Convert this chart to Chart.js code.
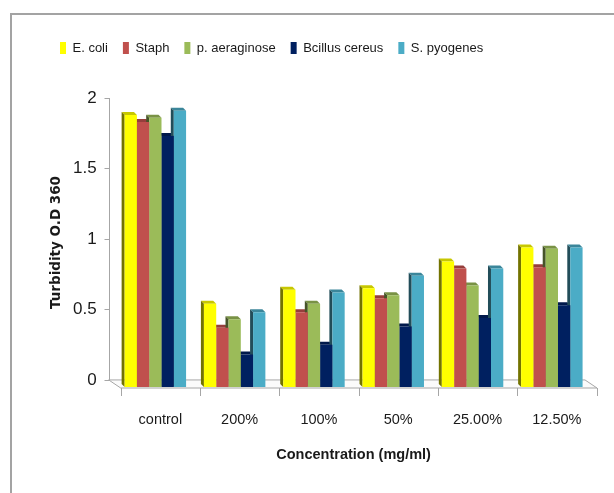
<!DOCTYPE html>
<html>
<head>
<meta charset="utf-8">
<script src="https://cdn.jsdelivr.net/npm/chart.js@4/dist/chart.umd.min.js"></script>
<style>
  html, body { margin: 0; padding: 0; background: #fff; overflow: hidden; }
  #wrap { position: relative; width: 614px; height: 493px; }
  #frame { position: absolute; left: 10px; top: 13px; width: 700px; height: 600px;
           border-left: 2px solid #a3a3a3; border-top: 2px solid #a3a3a3; }
  canvas { position: absolute; left: 0; top: 0; }
</style>
</head>
<body>
<div id="wrap">
  <div id="frame"></div>
  <canvas id="chart" width="614" height="493"></canvas>
</div>
<script>
// Turbidity (O.D 360) per concentration for each organism
const categories = ['control', '200%', '100%', '50%', '25.00%', '12.50%'];
const seriesNames = ['E. coli', 'Staph', 'p. aeraginose', 'Bcillus cereus', 'S. pyogenes'];
const eColi      = [1.88, 0.54, 0.64, 0.65, 0.84, 0.94];
const staph      = [1.83, 0.37, 0.48, 0.58, 0.79, 0.80];
const pAeruginosa = [1.86, 0.43, 0.54, 0.60, 0.67, 0.93];
const bCereus    = [1.73, 0.18, 0.25, 0.38, 0.44, 0.53];
const sPyogenes  = [1.91, 0.48, 0.62, 0.74, 0.79, 0.94];
const yTicks = [0, 0.5, 1, 1.5, 2];
const yTickLabels = ['0', '0.5', '1', '1.5', '2'];

const seriesValues = [eColi, staph, pAeruginosa, bCereus, sPyogenes];
const seriesColors = ['#FFFF00', '#C0504D', '#9BBB59', '#002060', '#4BACC6'];

const FONT = "'Liberation Sans', Arial, sans-serif";
const FLOOR_BASE = -0.05;   // bars stand on the front edge of the floor
const DEPTH = 3;            // bar side/top face depth in px

function shade(hex, f) {
  const n = parseInt(hex.slice(1), 16);
  const r = Math.round(((n >> 16) & 255) * f);
  const g = Math.round(((n >> 8) & 255) * f);
  const b = Math.round((n & 255) * f);
  return `rgb(${r},${g},${b})`;
}

// Floor, axis line and the 3-D faces of every bar
const pseudo3d = {
  id: 'pseudo3d',
  beforeInit(chart) {
    const fit = chart.legend.fit;
    chart.legend.fit = function () {
      fit.call(chart.legend);
      this.height += 33.5;
    };
  },
  beforeDatasetsDraw(chart) {
    const { ctx } = chart;
    const xs = chart.scales.x, ys = chart.scales.y;
    const n = categories.length;
    const step = (xs.right - xs.left) / n;
    const frontL = xs.left + 5, frontR = xs.right + 5.5;
    const yBack = ys.getPixelForValue(0);
    const yFront = ys.getPixelForValue(FLOOR_BASE) + 1;
    const back = 12;

    ctx.save();
    ctx.strokeStyle = '#a6a6a6';
    ctx.lineWidth = 1;
    // floor
    ctx.beginPath();
    ctx.moveTo(frontL, yFront);
    ctx.lineTo(frontR, yFront);
    ctx.lineTo(frontR - back, yBack);
    ctx.lineTo(frontL - back, yBack);
    ctx.closePath();
    ctx.fillStyle = '#fbfbfb';
    ctx.fill();
    ctx.stroke();
    // value axis on the back wall
    const ax = Math.round(frontL - back) + 0.5;
    ctx.beginPath();
    ctx.moveTo(ax, ys.getPixelForValue(yTicks[yTicks.length - 1]));
    ctx.lineTo(ax, yBack);
    yTicks.forEach(v => {
      const py = Math.round(ys.getPixelForValue(v)) + 0.5;
      ctx.moveTo(ax - 5, py);
      ctx.lineTo(ax, py);
    });
    // category dividers below the floor
    for (let k = 0; k <= n; k++) {
      const px = Math.round(frontL + k * step) + 0.5;
      ctx.moveTo(px, yFront);
      ctx.lineTo(px, yFront + 8);
    }
    ctx.stroke();

    // top faces, then side faces, so taller neighbours overlap correctly
    const faces = [];
    chart.data.datasets.forEach((ds, i) => {
      const meta = chart.getDatasetMeta(i);
      meta.data.forEach(el => {
        const p = el.getProps(['x', 'y', 'base', 'width'], true);
        faces.push({ p, color: seriesColors[i] });
      });
    });
    faces.forEach(({ p, color }) => {
      const L = p.x - p.width / 2, R = p.x + p.width / 2;
      ctx.beginPath();
      ctx.moveTo(L, p.y);
      ctx.lineTo(L - DEPTH, p.y - DEPTH);
      ctx.lineTo(R - DEPTH, p.y - DEPTH);
      ctx.lineTo(R, p.y);
      ctx.closePath();
      ctx.fillStyle = shade(color, 0.78);
      ctx.fill();
    });
    faces.forEach(({ p, color }) => {
      const L = p.x - p.width / 2;
      ctx.beginPath();
      ctx.moveTo(L, p.y);
      ctx.lineTo(L - DEPTH, p.y - DEPTH);
      ctx.lineTo(L - DEPTH, p.base - DEPTH);
      ctx.lineTo(L, p.base);
      ctx.closePath();
      ctx.fillStyle = shade(color, 0.45);
      ctx.fill();
    });
    ctx.restore();
  }
};

new Chart(document.getElementById('chart'), {
  type: 'bar',
  data: {
    labels: categories,
    datasets: seriesNames.map((name, i) => ({
      label: name,
      data: seriesValues[i],
      backgroundColor: seriesColors[i],
      borderWidth: 0,
      base: FLOOR_BASE,
      categoryPercentage: 0.775,
      barPercentage: 1
    }))
  },
  options: {
    responsive: false,
    animation: false,
    layout: { padding: { top: 26.5, left: 45, right: 22.5, bottom: 0 } },
    plugins: {
      legend: {
        position: 'top',
        align: 'start',
        labels: {
          boxWidth: 6,
          boxHeight: 12,
          padding: 15,
          color: '#1a1a1a',
          font: { family: FONT, size: 13 }
        }
      },
      tooltip: { enabled: false }
    },
    scales: {
      x: {
        afterFit(s) { s.height = 106; },
        grid: { display: false, drawTicks: false },
        border: { display: false },
        ticks: {
          padding: 24.3,
          labelOffset: 5,
          maxRotation: 0,
          autoSkip: false,
          color: '#1a1a1a',
          font: { family: FONT, size: 14.5 }
        },
        title: {
          display: true,
          text: 'Concentration (mg/ml)',
          color: '#1a1a1a',
          font: { family: FONT, size: 14.5, weight: 'bold' },
          padding: { top: 0, bottom: 29.3 }
        }
      },
      y: {
        min: FLOOR_BASE,
        max: 2,
        afterBuildTicks(s) { s.ticks = yTicks.map(v => ({ value: v })); },
        afterFit(s) { s.width = 70.7; },
        grid: { display: false, drawTicks: false },
        border: { display: false },
        ticks: {
          padding: 19,
          color: '#1a1a1a',
          font: { family: FONT, size: 17 },
          callback(value) {
            const i = yTicks.indexOf(value);
            return i >= 0 ? yTickLabels[i] : '';
          }
        },
        title: {
          display: true,
          text: 'Turbidity O.D 360',
          color: '#1a1a1a',
          font: { family: "'DejaVu Sans', sans-serif", size: 13.5, weight: 'bold' },
          padding: { top: 3, bottom: 0 }
        }
      }
    }
  },
  plugins: [pseudo3d]
});
</script>
</body>
</html>
